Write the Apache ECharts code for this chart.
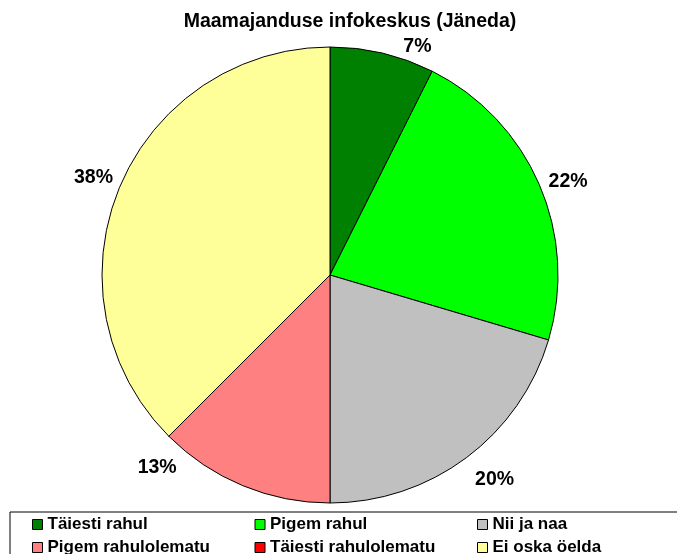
<!DOCTYPE html>
<html>
<head>
<meta charset="utf-8">
<script src="https://cdn.jsdelivr.net/npm/echarts@6/dist/echarts.min.js"></script>
<style>
  html, body { margin: 0; padding: 0; background: #fff; }
  #chart { width: 677px; height: 554px; }
</style>
</head>
<body>
<div id="chart"></div>
<script>
const categories = ['Täiesti rahul', 'Pigem rahul', 'Nii ja naa', 'Pigem rahulolematu', 'Täiesti rahulolematu', 'Ei oska öelda'];
const shares = [7.4, 22.2, 20.4, 12.5, 0, 37.5];
const sliceColors = ['#008000', '#00ff00', '#c0c0c0', '#ff8080', '#ff0000', '#ffff99'];

// nudges so the percent labels sit where Excel put them
const labelOffsets = [[11, 1], [-6, 0], [-4, 15], [-55, -25], [0, 0], [9, -7]];

const font = '"Liberation Sans", Arial, sans-serif';
const chart = echarts.init(document.getElementById('chart'));

chart.setOption({
  animation: false,
  title: {
    text: 'Maamajanduse infokeskus (Jäneda)',
    left: 345,
    textAlign: 'center',
    top: 7,
    textStyle: { fontFamily: font, fontSize: 19.5, fontWeight: 'bold', color: '#000' }
  },
  legend: {
    data: categories,
    left: 10,
    top: 512,
    width: 680,
    padding: [4, 40, 20, 22],
    borderColor: '#000',
    borderWidth: 1,
    icon: 'rect',
    itemWidth: 10,
    itemHeight: 10,
    itemGap: 6,
    itemStyle: { borderColor: '#000', borderWidth: 1 },
    textStyle: { fontFamily: font, fontSize: 17, fontWeight: 'bold', color: '#000', width: 201, lineHeight: 16 }
  },
  series: [{
    type: 'pie',
    center: [330, 275],
    radius: 228,
    startAngle: 90,
    clockwise: true,
    percentPrecision: 0,
    avoidLabelOverlap: false,
    data: categories.map((name, i) => ({
      name,
      value: shares[i],
      itemStyle: { color: sliceColors[i] },
      label: { show: shares[i] > 0, offset: labelOffsets[i] }
    })),
    itemStyle: { borderColor: '#000', borderWidth: 1 },
    label: {
      position: 'outside',
      formatter: '{d}%',
      fontFamily: font,
      fontSize: 19.5,
      fontWeight: 'bold',
      color: '#000',
      distanceToLabelLine: 4
    },
    labelLine: { show: false, length: 8, length2: 4 },
    emphasis: { disabled: true }
  }]
});
</script>
</body>
</html>
